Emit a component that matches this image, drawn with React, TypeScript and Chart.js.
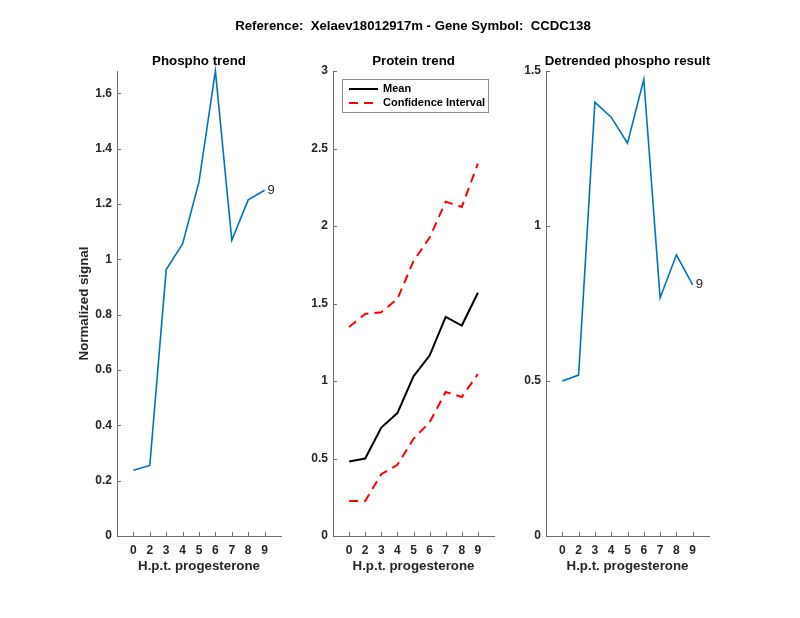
import React, { useEffect, useRef } from 'react';
import { Chart, registerables } from 'chart.js';

Chart.register(...registerables);

// ---------- data ----------
const timeLabels = ['0', '2', '3', '4', '5', '6', '7', '8', '9'];
const phospho = [0.238, 0.255, 0.963, 1.056, 1.28, 1.681, 1.069, 1.215, 1.25];
const proteinMean = [0.481, 0.5, 0.7, 0.793, 1.03, 1.164, 1.414, 1.358, 1.569];
const proteinUpper = [1.349, 1.433, 1.444, 1.53, 1.774, 1.925, 2.157, 2.123, 2.403];
const proteinLower = [0.226, 0.226, 0.399, 0.459, 0.627, 0.733, 0.929, 0.897, 1.045];
const detrended = [0.5, 0.519, 1.399, 1.351, 1.267, 1.473, 0.768, 0.907, 0.81];
const phosphoTicks = [0, 0.2, 0.4, 0.6, 0.8, 1, 1.2, 1.4, 1.6];
const proteinTicks = [0, 0.5, 1, 1.5, 2, 2.5, 3];
const detrendedTicks = [0, 0.5, 1, 1.5];
const suptitle = 'Reference:  Xelaev18012917m - Gene Symbol:  CCDC138';
const panelTitles = ['Phospho trend', 'Protein trend', 'Detrended phospho result'];
const xAxisLabel = 'H.p.t. progesterone';
const yAxisLabel = 'Normalized signal';
const legendLabels = ['Mean', 'Confidence Interval'];
const endLabel = '9';

const W = 800;
const H = 618;
const FONT = "'Liberation Sans', Arial, Helvetica, sans-serif";
const AXIS_COLOR = '#6e6e6e';
const TEXT_COLOR = '#262626';
const YW = 40;
const XH = 40;

type Area = { left: number; right: number; top: number; bottom: number };
type Panel = {
  area: Area;
  title: string;
  ymax: number;
  yticks: number[];
  datasets: any[];
  endLabel?: boolean;
  legend?: boolean;
  ylabel?: boolean;
  suptitle?: boolean;
};

const pts = (arr: number[]) => arr.map((y, i) => ({ x: i + 1, y }));

const panels: Panel[] = [
  {
    area: { left: 117, right: 281, top: 71, bottom: 536 },
    title: panelTitles[0],
    ymax: Math.max(...phospho),
    yticks: phosphoTicks,
    ylabel: true,
    endLabel: true,
    datasets: [
      { data: pts(phospho), borderColor: '#0072BD', borderWidth: 1.6, pointRadius: 0, fill: false, tension: 0 },
    ],
  },
  {
    area: { left: 333, right: 494, top: 71, bottom: 536 },
    title: panelTitles[1],
    ymax: 3,
    yticks: proteinTicks,
    legend: true,
    suptitle: true,
    datasets: [
      { label: legendLabels[0], data: pts(proteinMean), borderColor: '#000000', borderWidth: 2, pointRadius: 0, fill: false, tension: 0 },
      { label: legendLabels[1], data: pts(proteinUpper), borderColor: '#ff0000', borderWidth: 2, borderDash: [9, 6], pointRadius: 0, fill: false, tension: 0 },
      { label: legendLabels[1], data: pts(proteinLower), borderColor: '#ff0000', borderWidth: 2, borderDash: [9, 6], pointRadius: 0, fill: false, tension: 0 },
    ],
  },
  {
    area: { left: 546, right: 709, top: 71, bottom: 536 },
    title: panelTitles[2],
    ymax: 1.5,
    yticks: detrendedTicks,
    endLabel: true,
    datasets: [
      { data: pts(detrended), borderColor: '#0072BD', borderWidth: 1.6, pointRadius: 0, fill: false, tension: 0 },
    ],
  },
];

function makeDecorPlugin(panel: Panel) {
  return {
    id: 'decor',
    afterDraw(chart: any) {
      const ctx = chart.ctx as CanvasRenderingContext2D;
      const ca = chart.chartArea;
      const xs = chart.scales.x;
      const ys = chart.scales.y;
      ctx.save();
      // inward ticks
      ctx.strokeStyle = AXIS_COLOR;
      ctx.lineWidth = 1;
      ctx.beginPath();
      xs.ticks.forEach((t: any) => {
        const px = Math.round(xs.getPixelForValue(t.value)) + 0.5;
        ctx.moveTo(px, ca.bottom);
        ctx.lineTo(px, ca.bottom - 4);
      });
      ys.ticks.forEach((t: any) => {
        const py = Math.round(ys.getPixelForValue(t.value)) + 0.5;
        ctx.moveTo(ca.left, py);
        ctx.lineTo(ca.left + 4, py);
      });
      ctx.stroke();

      const cx = (ca.left + ca.right) / 2;
      // title
      ctx.fillStyle = '#000000';
      ctx.textAlign = 'center';
      ctx.textBaseline = 'middle';
      ctx.font = `bold 13.3px ${FONT}`;
      ctx.fillText(panel.title, cx, 61);
      // x label
      ctx.fillStyle = TEXT_COLOR;
      ctx.font = `bold 13.3px ${FONT}`;
      ctx.fillText(xAxisLabel, cx, 566);
      // y label
      if (panel.ylabel) {
        ctx.save();
        ctx.translate(84, (ca.top + ca.bottom) / 2);
        ctx.rotate(-Math.PI / 2);
        ctx.fillText(yAxisLabel, 0, 0);
        ctx.restore();
      }
      // suptitle
      if (panel.suptitle) {
        ctx.fillStyle = '#000000';
        ctx.font = `bold 13.2px ${FONT}`;
        ctx.fillText(suptitle, 413, 26);
      }
      // end label
      if (panel.endLabel) {
        const ds = panel.datasets[0].data;
        const last = ds[ds.length - 1];
        const px = xs.getPixelForValue(last.x);
        const py = ys.getPixelForValue(last.y);
        ctx.fillStyle = TEXT_COLOR;
        ctx.textAlign = 'left';
        ctx.font = `13px ${FONT}`;
        ctx.fillText(endLabel, px + 3, py);
      }
      // legend
      if (panel.legend) {
        const bx = 342, by = 79, bw = 146, bh = 33;
        ctx.fillStyle = '#ffffff';
        ctx.fillRect(bx, by, bw, bh);
        ctx.strokeStyle = '#8c8c8c';
        ctx.lineWidth = 1;
        ctx.strokeRect(bx + 0.5, by + 0.5, bw, bh);
        const entries = [panel.datasets[0], panel.datasets[1]];
        entries.forEach((d: any, i: number) => {
          const y = by + 10 + i * 14;
          ctx.strokeStyle = d.borderColor;
          ctx.lineWidth = d.borderWidth;
          ctx.setLineDash(d.borderDash || []);
          ctx.beginPath();
          ctx.moveTo(bx + 7, y);
          ctx.lineTo(bx + 36, y);
          ctx.stroke();
          ctx.setLineDash([]);
          ctx.fillStyle = '#000000';
          ctx.textAlign = 'left';
          ctx.font = `bold 11px ${FONT}`;
          ctx.fillText(d.label, bx + 41, y);
        });
      }
      ctx.restore();
    },
  };
}

function PanelChart({ panel }: { panel: Panel }) {
  const ref = useRef<HTMLCanvasElement | null>(null);
  useEffect(() => {
    if (!ref.current) return;
    const a = panel.area;
    const chart = new Chart(ref.current, {
      type: 'line',
      data: { datasets: panel.datasets },
      options: {
        animation: false,
        responsive: false,
        devicePixelRatio: 1,
        layout: {
          padding: { left: a.left - YW, right: W - a.right, top: a.top, bottom: H - a.bottom - XH },
        },
        plugins: { legend: { display: false }, tooltip: { enabled: false }, title: { display: false } },
        datasets: { line: { clip: false } } as any,
        scales: {
          x: {
            type: 'linear',
            min: 0,
            max: 10,
            afterFit: (s: any) => { s.height = XH; },
            afterBuildTicks: (s: any) => { s.ticks = timeLabels.map((_, i) => ({ value: i + 1 })); },
            grid: { display: false, drawTicks: false },
            border: { display: true, color: AXIS_COLOR, width: 1 },
            ticks: {
              autoSkip: false,
              maxRotation: 0,
              padding: 7,
              color: TEXT_COLOR,
              font: { family: FONT, size: 12, weight: 'bold' },
              callback: (_v: any, i: number) => timeLabels[i],
            },
          },
          y: {
            type: 'linear',
            min: 0,
            max: panel.ymax,
            afterFit: (s: any) => { s.width = YW; },
            afterBuildTicks: (s: any) => { s.ticks = panel.yticks.map((v) => ({ value: v })); },
            grid: { display: false, drawTicks: false },
            border: { display: true, color: AXIS_COLOR, width: 1 },
            ticks: {
              padding: 5,
              color: TEXT_COLOR,
              font: { family: FONT, size: 12, weight: 'bold' },
              callback: (v: any) => String(Math.round(Number(v) * 100) / 100),
            },
          },
        },
      },
      plugins: [makeDecorPlugin(panel)],
    });
    return () => chart.destroy();
  }, [panel]);
  return (
    <canvas
      ref={ref}
      width={W}
      height={H}
      style={{ position: 'absolute', left: 0, top: 0, width: W, height: H }}
    />
  );
}

export default function App() {
  return (
    <div style={{ position: 'absolute', left: 0, top: 0, width: W, height: H, background: '#ffffff' }}>
      {panels.map((p, i) => (
        <PanelChart key={i} panel={p} />
      ))}
    </div>
  );
}
